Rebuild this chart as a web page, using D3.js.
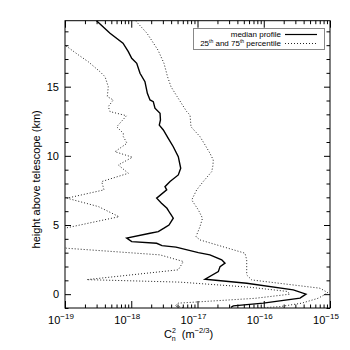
<!DOCTYPE html>
<html><head><meta charset="utf-8">
<script src="https://cdn.jsdelivr.net/npm/d3@7"></script>
<style>body{margin:0;background:#fff}svg{display:block}</style>
</head><body>
<svg id="c" width="350" height="350"></svg>
<script>
// ---- data ----
const heightsMedian = [19.77,18.86,18.14,17.53,17.05,16.69,15.97,15.36,14.52,14.04,13.92,13.44,13.08,12.6,12.22,11.87,11.27,10.66,9.94,9.1,8.62,8.14,7.77,7.54,6.94,6.58,6.21,5.85,5.49,5.0,4.77,4.52,4.4,4.05,3.8,3.68,3.51,3.4,3.0,2.84,2.48,2.24,1.99,1.63,1.08,0.79,0.31,0.0,-0.29,-0.65,-0.85,-0.95];
const medianProfile = [2.99e-19,4.78e-19,7.51e-19,9.03e-19,1.016e-18,1.21e-18,1.356e-18,1.61e-18,1.75e-18,1.92e-18,2.15e-18,2.28e-18,2.72e-18,2.76e-18,2.65e-18,3.05e-18,3.62e-18,4.31e-18,5.13e-18,5.58e-18,5.13e-18,3.85e-18,3.23e-18,3.43e-18,2.42e-18,2.86e-18,3.46e-18,3.85e-18,4.31e-18,3.71e-18,3.12e-18,2.56e-18,1.92e-18,8.54e-19,1.016e-18,2.42e-18,2.91e-18,4.74e-18,1.03e-17,1.54e-17,2.32e-17,2.60e-17,2.19e-17,2.06e-17,1.30e-17,5.53e-17,2.79e-16,4.34e-16,3.53e-16,9.84e-17,3.47e-17,3.20e-17];

const heights25 = [17.95,17.3,16.8,16.08,15.72,15.0,14.28,14.04,13.56,13.2,12.9,12.1,11.63,11.39,10.91,10.3,9.9,9.34,8.74,8.14,7.54,6.94,6.33,5.6,4.77,4.0,3.32,2.84,2.36,1.76,1.05,0.87,0.5,0.2,0.0,-0.3,-0.65,-0.85,-1.0];
const percentile25 = [1.035e-19,1.59e-19,2.25e-19,3.38e-19,4.02e-19,4.50e-19,4.35e-19,5.36e-19,4.50e-19,4.78e-19,8.48e-19,6.03e-19,7.59e-19,7.59e-19,8.63e-19,5.68e-19,1.04e-18,6.38e-19,9.03e-19,3.58e-19,3.88e-19,1.07e-19,3.20e-19,6.53e-19,1.0e-19,4.0e-20,1.06e-19,2.72e-18,6.11e-18,5.13e-18,2.13e-19,5.44e-18,6.20e-17,2.24e-16,2.49e-16,7.38e-17,5.08e-18,4.58e-18,6.48e-18];

const heights75 = [19.77,18.86,17.65,16.69,15.72,15.0,14.3,13.2,12.95,12.1,11.39,10.79,10.19,9.7,9.3,8.86,8.14,7.54,6.81,6.09,5.49,4.88,4.16,3.92,2.96,2.48,1.39,1.03,0.43,0.1,-0.3,-0.65,-0.9,-1.0];
const percentile75 = [1.16e-18,1.73e-18,2.53e-18,3.12e-18,3.53e-18,3.98e-18,4.90e-18,6.87e-18,7.71e-18,7.98e-18,1.09e-17,1.30e-17,1.54e-17,1.73e-17,1.71e-17,1.64e-17,1.22e-17,9.72e-18,8.18e-18,1.03e-17,1.19e-17,1.09e-17,9.49e-18,1.09e-17,5.21e-17,5.53e-17,5.53e-17,6.58e-17,7.06e-16,9.33e-16,6.59e-16,3.74e-16,1.76e-16,8.19e-17];

const xDecades = [1e-19,1e-18,1e-17,1e-16,1e-15];
const xDecadeExponents = ["−19","−18","−17","−16","−15"];
const yTickValues = [0,5,10,15];

// ---- layout ----
const svg = d3.select("#c");
const L = 65, R = 330, T = 20.7, B = 308;
const x = d3.scaleLog().domain([1e-19,1e-15]).range([L,R]);
const y = d3.scaleLinear().domain([-1,19.77]).range([B,T]);
const font = "'Liberation Sans', Arial, Helvetica, sans-serif";

svg.append("defs").append("clipPath").attr("id","pc")
  .append("rect").attr("x",L).attr("y",T).attr("width",R-L).attr("height",B-T);

// minor tick values
const xMinor = [];
for (let e=-19;e<-15;e++) for (let m=2;m<=9;m++) xMinor.push(m*Math.pow(10,e));
const yMinor = d3.range(-1,20,1).filter(v=>v%5!==0);

function axisStyle(g){ g.select(".domain").remove(); g.selectAll("line").attr("stroke","#000").attr("stroke-width",1); g.selectAll("text").remove(); }

// bottom
svg.append("g").attr("transform",`translate(0,${B})`).call(d3.axisTop(x).tickValues(xDecades).tickSize(7)).call(axisStyle);
svg.append("g").attr("transform",`translate(0,${B})`).call(d3.axisTop(x).tickValues(xMinor).tickSize(3.5)).call(axisStyle);
// top
svg.append("g").attr("transform",`translate(0,${T})`).call(d3.axisBottom(x).tickValues(xDecades).tickSize(7)).call(axisStyle);
svg.append("g").attr("transform",`translate(0,${T})`).call(d3.axisBottom(x).tickValues(xMinor).tickSize(3.5)).call(axisStyle);
// left
svg.append("g").attr("transform",`translate(${L},0)`).call(d3.axisRight(y).tickValues(yTickValues).tickSize(6)).call(axisStyle);
svg.append("g").attr("transform",`translate(${L},0)`).call(d3.axisRight(y).tickValues(yMinor).tickSize(3.5)).call(axisStyle);
// right
svg.append("g").attr("transform",`translate(${R},0)`).call(d3.axisLeft(y).tickValues(yTickValues).tickSize(6)).call(axisStyle);
svg.append("g").attr("transform",`translate(${R},0)`).call(d3.axisLeft(y).tickValues(yMinor).tickSize(3.5)).call(axisStyle);

// frame
svg.append("rect").attr("x",L).attr("y",T).attr("width",R-L).attr("height",B-T)
  .attr("fill","none").attr("stroke","#000").attr("stroke-width",1);

// x tick labels
xDecades.forEach((d,i)=>{
  const t = svg.append("text").attr("x",x(d)-4).attr("y",B+16).attr("text-anchor","middle")
    .attr("font-family",font).attr("font-size",11).attr("fill","#000");
  t.append("tspan").text("10");
  t.append("tspan").attr("dy",-5).attr("font-size",8).text(xDecadeExponents[i]);
});
// y tick labels
yTickValues.forEach(v=>{
  svg.append("text").attr("x",L-6).attr("y",y(v)+4).attr("text-anchor","end")
    .attr("font-family",font).attr("font-size",11).attr("fill","#000").text(v);
});
// y title
svg.append("text").attr("transform",`translate(40,${(T+B)/2+15}) rotate(-90)`).attr("text-anchor","middle")
  .attr("font-family",font).attr("font-size",11).attr("fill","#000").text("height above telescope (km)");
// x title
const xt = svg.append("text").attr("x",164).attr("y",338).attr("font-family",font).attr("font-size",11).attr("fill","#000");
xt.append("tspan").text("C");
xt.append("tspan").attr("dy",-5).attr("font-size",7).text("2");
xt.append("tspan").attr("dx",-4).attr("dy",8).attr("font-size",7).text("n");
xt.append("tspan").attr("dy",-3).attr("dx",6).text("(m");
xt.append("tspan").attr("dy",-5).attr("font-size",7.5).text("−2/3");
xt.append("tspan").attr("dy",5).text(")");

// lines
const mk = (hs)=>d3.line().x((d)=>x(d)).y((d,i)=>y(hs[i]));
const plot = svg.append("g").attr("clip-path","url(#pc)");
plot.append("path").attr("d",mk(heights25)(percentile25)).attr("fill","none")
  .attr("stroke","#222").attr("stroke-width",1).attr("stroke-dasharray","1,2");
plot.append("path").attr("d",mk(heights75)(percentile75)).attr("fill","none")
  .attr("stroke","#222").attr("stroke-width",1).attr("stroke-dasharray","1,2");
plot.append("path").attr("d",mk(heightsMedian)(medianProfile)).attr("fill","none")
  .attr("stroke","#000").attr("stroke-width",1.4);

// legend
svg.append("rect").attr("x",193.5).attr("y",28.5).attr("width",131).attr("height",21)
  .attr("fill","#fff").attr("stroke","#888").attr("stroke-width",1);
svg.append("text").attr("x",281).attr("y",37).attr("text-anchor","end").attr("font-family",font)
  .attr("font-size",8).attr("fill","#000").text("median profile");
const lt = svg.append("text").attr("x",281).attr("y",46).attr("text-anchor","end").attr("font-family",font)
  .attr("font-size",8).attr("fill","#000");
lt.append("tspan").text("25");
lt.append("tspan").attr("dy",-3).attr("font-size",5).text("th");
lt.append("tspan").attr("dy",3).text(" and 75");
lt.append("tspan").attr("dy",-3).attr("font-size",5).text("th");
lt.append("tspan").attr("dy",3).text(" percentile");
svg.append("line").attr("x1",285).attr("x2",317).attr("y1",34.5).attr("y2",34.5).attr("stroke","#000").attr("stroke-width",1.2);
svg.append("line").attr("x1",285).attr("x2",317).attr("y1",43.5).attr("y2",43.5).attr("stroke","#222").attr("stroke-width",1).attr("stroke-dasharray","1,2");
</script>
</body></html>
